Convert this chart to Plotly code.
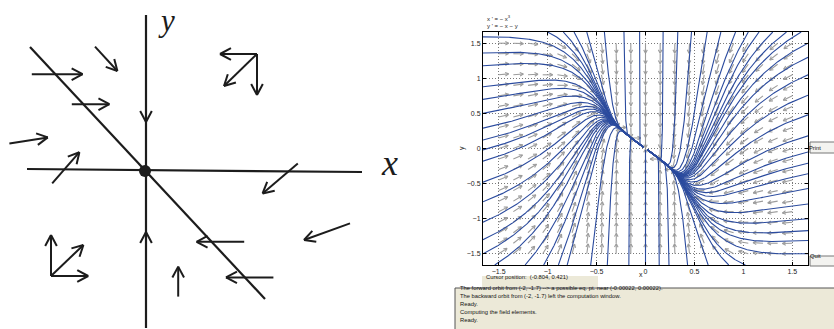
import math
import plotly.graph_objects as go

W_PX, H_PX = 834, 329

# ---------------- sketch panel (schematic units, equilibrium at origin) ----------------
SKETCH_X_AXIS = [(-2.95, 0.05), (5.425, -0.025)]
SKETCH_Y_AXIS = [(0.025, 3.9), (0.025, -3.925)]
SKETCH_DIAGONAL = [(-2.875, 3.1), (3.0, -3.2)]
SKETCH_EQUILIBRIUM = (0.0, 0.0)

# direction arrows: tail -> head
ARROW_TAILS = [
    (-1.25, 3.11), (-2.83, 2.42), (-1.83, 1.67), (-3.39, 0.69), (-2.32, -0.31),
    (0.025, 2.0), (0.025, -2.3),
    (2.80, 2.925), (2.80, 2.925), (2.80, 2.925),
    (3.82, 0.19), (5.125, -1.31), (2.48, -1.77), (3.21, -2.66), (0.83, -3.14),
    (-2.35, -2.625), (-2.35, -2.625), (-2.35, -2.625),
]
ARROW_HEADS = [
    (-0.69, 2.50), (-1.56, 2.42), (-0.89, 1.67), (-2.43, 0.84), (-1.64, 0.47),
    (0.025, 1.225), (0.025, -1.525),
    (1.875, 2.925), (2.80, 1.90), (1.975, 2.125),
    (2.94, -0.56), (3.975, -1.725), (1.29, -1.77), (2.025, -2.66), (0.83, -2.39),
    (-2.35, -1.60), (-1.42, -2.625), (-1.54, -1.85),
]
SKETCH_HEAD_LEN = 0.31      # chevron arm length
SKETCH_HEAD_ANGLE = 28.0    # degrees

# ---------------- phase-plane panel ----------------
EQUATIONS = ["x ' = \u2212 x<sup>3</sup>", "y ' = \u2212 x \u2212 y"]
X_RANGE = [-1.66, 1.66]
Y_RANGE = [-1.66, 1.66]
TICKS = [-1.5, -1, -0.5, 0, 0.5, 1, 1.5]
FIELD_POINTS = [-1.5, -1.35, -1.2, -1.05, -0.9, -0.75, -0.6, -0.45, -0.3, -0.15, 0.0,
                0.15, 0.3, 0.45, 0.6, 0.75, 0.9, 1.05, 1.2, 1.35, 1.5]

# initial points of the orbits, on the edges of the display window
LEFT_ENTRY_Y = [1.59, 1.36, 1.18, 0.88, 0.70, 0.50, 0.29, 0.12, -0.02,
                -0.18, -0.48, -0.76, -1.05, -1.30, -1.50]
RIGHT_ENTRY_Y = [1.50, 1.30, 1.05, 0.76, 0.48, 0.18,
                 -0.05, -0.21, -0.36, -0.57, -0.79, -1.00, -1.17, -1.31, -1.50]
TOP_ENTRY_X = [-1.00, -0.84, -0.73, -0.60, -0.42, -0.22, -0.06, 0.18, 0.33, 0.47,
               0.63, 0.77, 0.92, 1.05, 1.16, 1.30, 1.44, 1.59]
BOTTOM_ENTRY_X = [-1.54, -1.23, -1.04, -0.89, -0.80, -0.56, -0.39, -0.17, 0.0,
                  0.14, 0.24, 0.43, 0.64, 0.85, 1.02]

CURSOR_TEXT = "Cursor position:  (-0.804, 0.421)"
MESSAGES = [
    "The forward orbit from (-2, -1.7) --> a possible eq. pt. near (-0.00022, 0.00022).",
    "The backward orbit from (-2, -1.7) left the computation window.",
    "Ready.",
    "Computing the field elements.",
    "Ready.",
]

# pixel frame of the phase-plane axes
PP_LEFT, PP_RIGHT, PP_TOP, PP_BOTTOM = 483, 808, 32, 265
SX = (PP_RIGHT - PP_LEFT) / (X_RANGE[1] - X_RANGE[0])   # px per x unit
SY = (PP_BOTTOM - PP_TOP) / (Y_RANGE[1] - Y_RANGE[0])   # px per y unit
STALL_RADIUS = 0.022   # orbit stops here: "possible eq. pt."


def field(x, y):
    return -x ** 3, -x - y


def orbit(x0, y0):
    """Forward orbit (RK4, step about one pixel) until it stalls near the equilibrium."""
    x, y, t = x0, y0, 0.0
    xs, ys = [x], [y]
    lx, ly = x, y
    for _ in range(40000):
        u, v = field(x, y)
        sp = math.hypot(u * SX, v * SY)
        dt = 0.5 if sp == 0 else min(0.5, 0.8 / sp)
        k1 = (u, v)
        k2 = field(x + 0.5 * dt * k1[0], y + 0.5 * dt * k1[1])
        k3 = field(x + 0.5 * dt * k2[0], y + 0.5 * dt * k2[1])
        k4 = field(x + dt * k3[0], y + dt * k3[1])
        x += dt / 6 * (k1[0] + 2 * k2[0] + 2 * k3[0] + k4[0])
        y += dt / 6 * (k1[1] + 2 * k2[1] + 2 * k3[1] + k4[1])
        t += dt
        if abs(x) > 1.7 or abs(y) > 1.7:
            xs.append(x); ys.append(y)
            break
        if math.hypot((x - lx) * SX, (y - ly) * SY) > 0.7:
            xs.append(x); ys.append(y)
            lx, ly = x, y
        if max(abs(x), abs(y)) < STALL_RADIUS or t > 1600:
            xs.append(x); ys.append(y)
            break
    return xs, ys


starts = ([(X_RANGE[0], v) for v in LEFT_ENTRY_Y] +
          [(X_RANGE[1], v) for v in RIGHT_ENTRY_Y] +
          [(u, Y_RANGE[1]) for u in TOP_ENTRY_X] +
          [(u, Y_RANGE[0]) for u in BOTTOM_ENTRY_X])

orb_x, orb_y = [], []
for sx0, sy0 in starts:
    ox, oy = orbit(sx0, sy0)
    orb_x += ox + [None]
    orb_y += oy + [None]

# direction field: fixed-length arrows (in screen pixels) with their tails at the grid points
ARROW_PX, HEAD_PX, HEAD_DEG = 10.0, 3.8, 28.0
fx, fy = [], []
for gx in FIELD_POINTS:
    for gy in FIELD_POINTS:
        u, v = field(gx, gy)
        pu, pv = u * SX, v * SY
        n = math.hypot(pu, pv)
        if n == 0:
            continue
        du, dv = pu / n, pv / n
        tx, ty = gx + du * ARROW_PX / SX, gy + dv * ARROW_PX / SY
        fx += [gx, tx, None]
        fy += [gy, ty, None]
        for s in (1, -1):
            a = math.radians(180 - s * HEAD_DEG)
            ru = du * math.cos(a) - dv * math.sin(a)
            rv = du * math.sin(a) + dv * math.cos(a)
            fx += [tx + ru * HEAD_PX / SX, tx, None]
            fy += [ty + rv * HEAD_PX / SY, ty, None]

# chevrons for the sketch arrows (equal scales on both sketch axes)
sk_x, sk_y = [], []
for (ax_, ay_), (hx, hy) in zip(ARROW_TAILS, ARROW_HEADS):
    d = math.hypot(hx - ax_, hy - ay_)
    du, dv = (hx - ax_) / d, (hy - ay_) / d
    sk_x += [ax_, hx, None]
    sk_y += [ay_, hy, None]
    for s in (1, -1):
        a = math.radians(180 - s * SKETCH_HEAD_ANGLE)
        ru = du * math.cos(a) - dv * math.sin(a)
        rv = du * math.sin(a) + dv * math.cos(a)
        sk_x += [hx + ru * SKETCH_HEAD_LEN, hx, None]
        sk_y += [hy + rv * SKETCH_HEAD_LEN, hy, None]

INK = "#1c1c1c"
fig = go.Figure()

for seg in (SKETCH_X_AXIS, SKETCH_Y_AXIS, SKETCH_DIAGONAL):
    fig.add_trace(go.Scatter(x=[p[0] for p in seg], y=[p[1] for p in seg], mode="lines",
                             line=dict(color=INK, width=2.2), xaxis="x", yaxis="y",
                             hoverinfo="skip", showlegend=False))
fig.add_trace(go.Scatter(x=sk_x, y=sk_y, mode="lines", line=dict(color=INK, width=2.0),
                         xaxis="x", yaxis="y", hoverinfo="skip", showlegend=False))
fig.add_trace(go.Scatter(x=[SKETCH_EQUILIBRIUM[0]], y=[SKETCH_EQUILIBRIUM[1]], mode="markers",
                         marker=dict(color=INK, size=12), xaxis="x", yaxis="y",
                         hoverinfo="skip", showlegend=False))

fig.add_trace(go.Scatter(x=fx, y=fy, mode="lines", line=dict(color="#9c9c9c", width=1.1),
                         xaxis="x2", yaxis="y2", hoverinfo="skip", showlegend=False))
fig.add_trace(go.Scatter(x=orb_x, y=orb_y, mode="lines", line=dict(color="#2b4b9e", width=1.1),
                         xaxis="x2", yaxis="y2", hoverinfo="skip", showlegend=False))


def px(x):
    return x / W_PX


def py(y):
    return 1 - y / H_PX


SK_OX, SK_OY, SK_UNIT = 145, 171, 40.0
hidden = dict(visible=False, fixedrange=True)
pp_axis = dict(tickvals=TICKS, ticks="inside", ticklen=3, tickcolor="black",
               showline=True, linecolor="black", linewidth=1, mirror="allticks",
               showgrid=True, gridcolor="#7a7a7a", griddash="1px,2px", gridwidth=1,
               zeroline=False, tickfont=dict(family="Liberation Sans", size=7, color="#222"))
fig.update_layout(
    width=W_PX, height=H_PX, margin=dict(l=0, r=0, t=0, b=0),
    paper_bgcolor="white", plot_bgcolor="white", showlegend=False,
    xaxis=dict(domain=[0, 420 / W_PX], range=[-SK_OX / SK_UNIT, (420 - SK_OX) / SK_UNIT], **hidden),
    yaxis=dict(domain=[0, 1], range=[(SK_OY - H_PX) / SK_UNIT, SK_OY / SK_UNIT], **hidden),
    xaxis2=dict(domain=[px(PP_LEFT), px(PP_RIGHT)], range=X_RANGE, anchor="y2", **pp_axis),
    yaxis2=dict(domain=[py(PP_BOTTOM), py(PP_TOP)], range=Y_RANGE, anchor="x2", **pp_axis),
)

serif = dict(family="Liberation Serif", color=INK)
ui_font = dict(family="Liberation Sans", size=5.8, color="#111")
ann = [
    dict(x=0.525, y=3.775, xref="x", yref="y", text="<i>y</i>", showarrow=False,
         font=dict(size=31, **serif)),
    dict(x=6.1, y=0.2, xref="x", yref="y", text="<i>x</i>", showarrow=False,
         font=dict(size=36, **serif)),
    dict(x=px(645), y=py(280), xref="paper", yref="paper", text="x", showarrow=False,
         font=dict(family="Liberation Sans", size=7, color="#222")),
    dict(x=px(462), y=py(148), xref="paper", yref="paper", text="y", showarrow=False,
         textangle=-90, font=dict(family="Liberation Sans", size=7, color="#222")),
]
for i, line in enumerate(EQUATIONS):
    ann.append(dict(x=px(485), y=py(12 + 9 * i), xref="paper", yref="paper", text=line,
                    showarrow=False, xanchor="left",
                    font=dict(family="Liberation Sans", size=6, color="#222")))
ann.append(dict(x=px(484), y=py(282), xref="paper", yref="paper", text=CURSOR_TEXT,
                showarrow=False, xanchor="left", font=ui_font))
for i, line in enumerate(MESSAGES):
    ann.append(dict(x=px(458), y=py(292.7 + 8.1 * i), xref="paper", yref="paper", text=line,
                    showarrow=False, xanchor="left", font=ui_font))
for label, yc in (("Print", 147.5), ("Quit", 261)):
    ann.append(dict(x=px(823), y=py(yc), xref="paper", yref="paper", text=label,
                    showarrow=False, font=ui_font))
fig.update_layout(annotations=ann)

XP_BEIGE = "#ECE9D8"
shapes = [
    dict(type="rect", xref="paper", yref="paper", x0=px(482), x1=px(598), y0=py(287), y1=py(276),
         fillcolor=XP_BEIGE, line=dict(width=0), layer="below"),
    dict(type="rect", xref="paper", yref="paper", x0=px(455), x1=px(840), y0=py(335), y1=py(288),
         fillcolor=XP_BEIGE, line=dict(color="#555", width=1), layer="below"),
    dict(type="rect", xref="paper", yref="paper", x0=px(810), x1=px(840), y0=py(153), y1=py(142),
         fillcolor="#f3f3f0", line=dict(color="#777", width=1), layer="below"),
    dict(type="rect", xref="paper", yref="paper", x0=px(810), x1=px(840), y0=py(266), y1=py(256),
         fillcolor="#f3f3f0", line=dict(color="#777", width=1), layer="below"),
]
fig.update_layout(shapes=shapes)

fig.write_html("out.html")
